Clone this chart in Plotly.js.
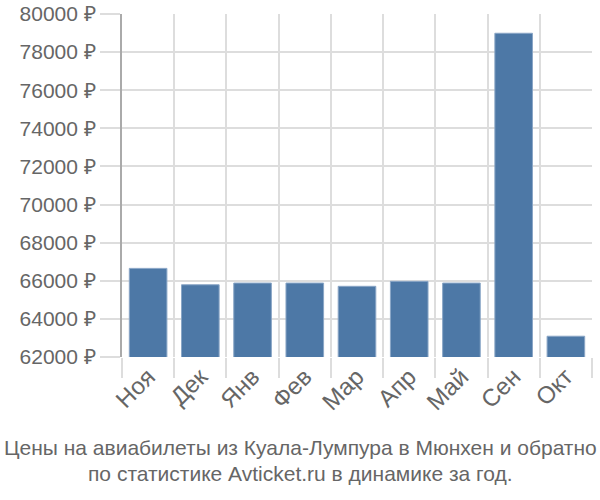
<!DOCTYPE html>
<html><head><meta charset="utf-8">
<script src="https://cdn.plot.ly/plotly-3.0.1.min.js"></script>
<style>body{margin:0;padding:0;background:#fff}#chart{width:600px;height:500px}</style>
</head><body><div id="chart"></div>
<script>
var months = ["Ноя","Дек","Янв","Фев","Мар","Апр","Май","Сен","Окт"];
var prices = [66650, 65790, 65880, 65880, 65710, 65970, 65880, 78990, 63090];
var yTicks = [62000,64000,66000,68000,70000,72000,74000,76000,78000,80000];
var yTickText = yTicks.map(function(v){return v + " ₽";});
var titleLines = ["Цены на авиабилеты из Куала-Лумпура в Мюнхен и обратно","по статистике Avticket.ru в динамике за год."];

var trace = {
  type: "bar", x: months, y: prices,
  marker: {color: "#4d78a6", line: {color: "#8aa6c6", width: 1}},
  hoverinfo: "x+y"
};
var cx = (300 - 122) / 470;
var layout = {
  width: 600, height: 500,
  margin: {l: 122, r: 8, t: 14, b: 143},
  paper_bgcolor: "#fff", plot_bgcolor: "#fff",
  bargap: 0.28,
  font: {family: "Liberation Sans, Arial, sans-serif", color: "#666"},
  xaxis: {
    type: "category", tickson: "boundaries", ticks: "outside", ticklen: 20,
    tickcolor: "#dddddd", tickwidth: 2, showgrid: true, gridcolor: "#dddddd", gridwidth: 2,
    tickangle: -45, tickfont: {size: 24, color: "#666"}, showline: false
  },
  yaxis: {
    range: [62000, 80000], tickvals: yTicks, ticktext: yTickText,
    ticks: "outside", ticklen: 20, tickcolor: "#dddddd", tickwidth: 2,
    showgrid: true, gridcolor: "#dddddd", gridwidth: 2, zeroline: false,
    showline: true, linecolor: "#aaaaaa", linewidth: 2,
    tickfont: {size: 21, color: "#666"}
  },
  annotations: [
    {text: titleLines[0], xref: "paper", yref: "paper", x: cx, xanchor: "center",
     y: -0.263, yanchor: "middle", showarrow: false, font: {size: 21, color: "#666"}},
    {text: titleLines[1], xref: "paper", yref: "paper", x: cx, xanchor: "center",
     y: -0.339, yanchor: "middle", showarrow: false, font: {size: 21, color: "#666"}}
  ],
  showlegend: false
};
Plotly.newPlot("chart", [trace], layout, {displayModeBar: false, staticPlot: true});
</script></body></html>
